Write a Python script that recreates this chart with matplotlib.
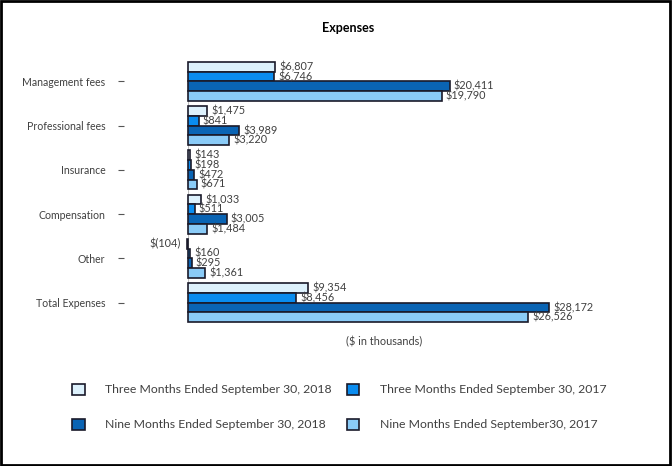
import matplotlib.pyplot as plt
import numpy as np
from matplotlib.patches import Rectangle

plt.rcParams['font.family'] = ['Lato', 'DejaVu Sans']

# dados
categorias = ["Management fees", "Professional fees", "Insurance",
              "Compensation", "Other", "Total Expenses"]
series = ["Three Months Ended September 30, 2018",
          "Three Months Ended September 30, 2017",
          "Nine Months Ended September 30, 2018",
          "Nine Months Ended September30, 2017"]
tres_2018 = [6807, 1475, 143, 1033, -104, 9354]
tres_2017 = [6746, 841, 198, 511, 160, 8456]
nove_2018 = [20411, 3989, 472, 3005, 295, 28172]
nove_2017 = [19790, 3220, 671, 1484, 1361, 26526]
cores = ["#DDF1FC", "#0A8CEF", "#0A64B4", "#8ACBF7"]

cinza = '#404040'

fig = plt.figure(figsize=(6.72, 4.66), dpi=100)
ax = fig.add_axes([188/672, 1 - 322/466, 392/672, 260/466])

# eixo y deslocado para a esquerda (os tracinhos ficam longe das barras)
# (deslocamento em pontos: 64 px = 46 pt)
for s in ['top', 'right', 'bottom']:
    ax.spines[s].set_visible(False)
ax.spines['left'].set_position(('outward', 46))
ax.spines['left'].set_visible(False)

y_pos = np.arange(len(categorias))
h = 0.22
valores = [tres_2018, tres_2017, nove_2018, nove_2017]
barras = []
for k, (vals, cor, nome) in enumerate(zip(valores, cores, series)):
    ys = y_pos + (k - 1.5) * h
    b = ax.barh(ys, vals, height=h, color=cor, edgecolor='#1a1a2a',
                linewidth=1.2, label=nome, clip_on=False)
    barras.append(b)
    for y, v in zip(ys, vals):
        if v < 0:
            ax.annotate("$(%s)" % format(-v, ","), (v, y), xytext=(-4, 0),
                        textcoords='offset points', ha='right', va='center',
                        fontsize=7.8, color=cinza, annotation_clip=False)
        else:
            ax.annotate("$" + format(v, ","), (v, y), xytext=(3, 0),
                        textcoords='offset points', ha='left', va='center',
                        fontsize=7.8, color=cinza, annotation_clip=False)

ax.set_xlim(0, 30590)
ax.set_ylim(5.44, -0.44)
ax.set_xticks([])
ax.set_yticks(y_pos)
ax.set_yticklabels(categorias, fontsize=7.6, color=cinza)
ax.tick_params(axis='y', length=4.5, width=0.8, color='#555555', pad=9)
ax.axvline(0, color='#bbbbbb', linewidth=0.8, zorder=0)

ax.set_xlabel("($ in thousands)", fontsize=7.8, color=cinza, labelpad=10)

fig.text(348/672, 1 - 28/466, "Expenses", ha='center', va='center',
         fontsize=9, fontweight='bold')

# legenda em linhas: 3 meses em cima, 9 meses embaixo
ordem = [0, 2, 1, 3]
fig.legend([barras[i] for i in ordem], [series[i] for i in ordem],
           loc='center', bbox_to_anchor=(0.505, 1 - 407/466), ncol=2,
           frameon=False, fontsize=8.8, handlelength=1.0, handleheight=1.0,
           handletextpad=1.7, columnspacing=1.2, labelspacing=1.9,
           labelcolor=cinza)

fig.add_artist(Rectangle((0.002, 0.003), 0.995, 0.994, transform=fig.transFigure,
                         fill=False, edgecolor='black', linewidth=2))

fig.savefig("out.png", dpi=100)
